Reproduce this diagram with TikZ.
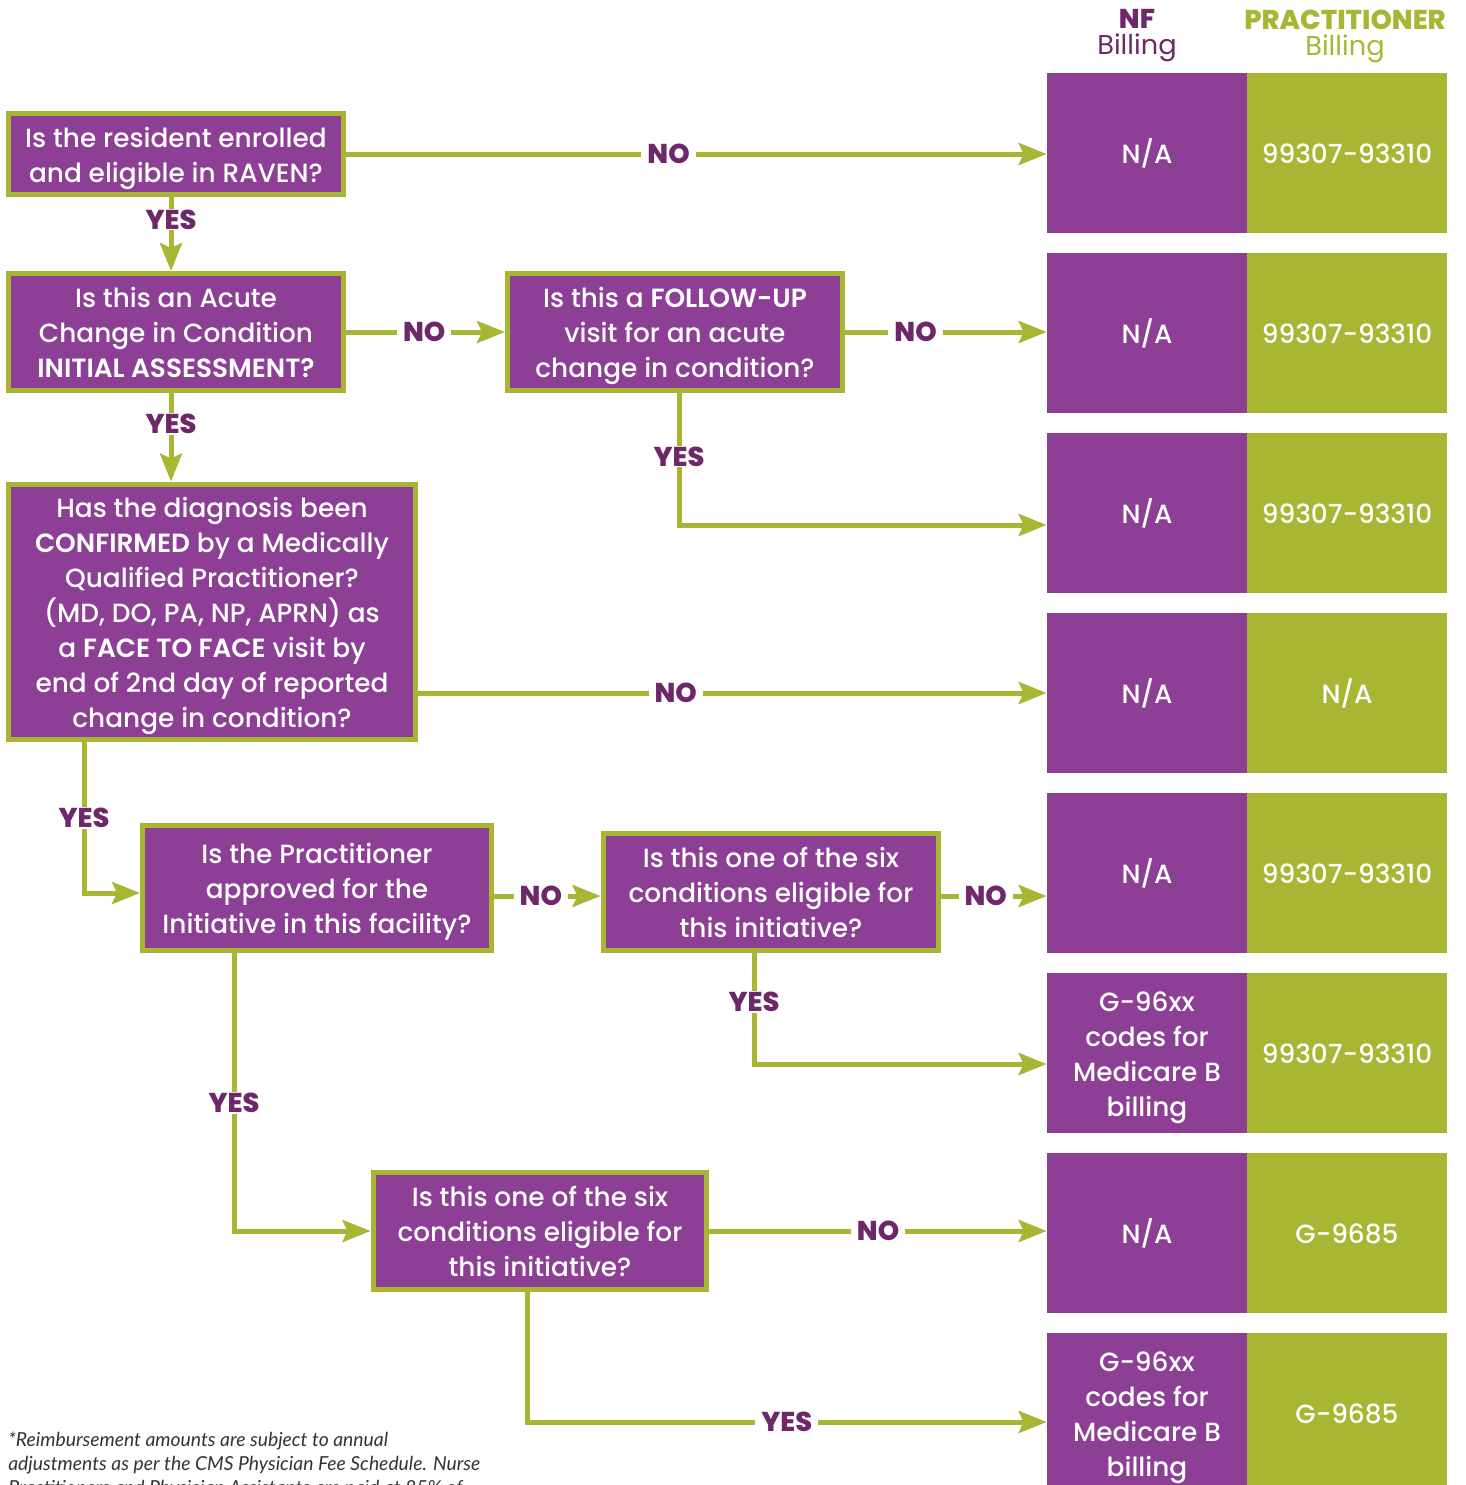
\documentclass[tikz,border=0pt]{standalone}
\usepackage{fontspec}
\setmainfont{Poppins}[UprightFont=* Medium, BoldFont=* SemiBold]
\newfontfamily\heavyfont{Poppins}[UprightFont=* ExtraBold]
\newfontfamily\lightfont{Poppins}
\newfontfamily\notefont{Lato}
\usepackage{xcolor}
\usetikzlibrary{arrows.meta}
\definecolor{plum}{HTML}{8C3F94}
\definecolor{darkplum}{HTML}{6E2869}
\definecolor{leaf}{HTML}{A9B633}

\newcommand{\na}{N/A}
% struts so the lines sit on their baselines, not on their glyphs
\newcommand{\qtext}[1]{\rule{0pt}{17.6pt}#1\rule[-5.6pt]{0pt}{5.6pt}}
\tikzset{
  qbox/.style={draw=leaf, line width=0.1cm, fill=plum, text=white,
    align=center, inner sep=0pt, font=\fontsize{15}{19.9}\selectfont},
  nfcell/.style={fill=plum, text=white, minimum width=4cm, minimum height=3.2cm,
    align=center, inner sep=0pt, font=\fontsize{15}{19.9}\selectfont},
  prcell/.style={nfcell, fill=leaf},
  flow/.style={draw=leaf, line width=0.1cm,
    -{Stealth[length=0.56cm, width=0.44cm, inset=0.1cm]}},
  ans/.style={fill=white, text=darkplum, inner xsep=0.12cm, inner ysep=0.02cm,
    font=\heavyfont\fontsize{15.5}{18}\selectfont},
  head/.style={align=center, inner sep=0pt, font=\lightfont\fontsize{15.5}{14.8}\selectfont}
}

\begin{document}
\begin{tikzpicture}[x=0.02cm, y=-0.02cm]
  \useasboundingbox (0,0) rectangle (1466,1485);

  % column heads
  \node[head, text=darkplum] (nfhead) at (1137,36) {{\heavyfont NF}\\Billing};
  \node[head, text=leaf] (prhead) at (1345,36) {{\heavyfont PRACTITIONER}\\Billing};

  % billing cells
  \foreach \i/\nf/\pr in {1/\na/99307-93310, 2/\na/99307-93310, 3/\na/99307-93310,
      4/\na/\na, 5/\na/99307-93310, 6/{G-96xx\\codes for\\Medicare B\\billing}/99307-93310,
      7/\na/G-9685, 8/{G-96xx\\codes for\\Medicare B\\billing}/G-9685} {
    \node[nfcell] (nf\i) at (1147,{153+180*(\i-1)}) {\qtext{\nf}};
    \node[prcell] (pr\i) at (1347,{153+180*(\i-1)}) {\qtext{\pr}};
  }

  % questions
  \node[qbox, minimum width=6.72cm, minimum height=1.64cm] (q1) at (176,154)
    {\qtext{Is the resident enrolled\\and eligible in RAVEN?}};
  \node[qbox, minimum width=6.72cm, minimum height=2.34cm] (q2) at (176,332)
    {\qtext{Is this an Acute\\Change in Condition\\\textbf{INITIAL ASSESSMENT?}}};
  \node[qbox, minimum width=6.70cm, minimum height=2.34cm] (q3) at (675,332)
    {\qtext{Is this a \textbf{FOLLOW-UP}\\visit for an acute\\change in condition?}};
  \node[qbox, minimum width=8.14cm, minimum height=5.12cm] (q4) at (212,612)
    {\qtext{Has the diagnosis been\\\textbf{CONFIRMED} by a Medically\\Qualified Practitioner?\\(MD, DO, PA, NP, APRN) as\\a \textbf{FACE TO FACE} visit by\\end of 2nd day of reported\\change in condition?}};
  \node[qbox, minimum width=6.98cm, minimum height=2.50cm] (q5) at (317,888)
    {\qtext{Is the Practitioner\\approved for the\\Initiative in this facility?}};
  \node[qbox, minimum width=6.72cm, minimum height=2.34cm] (q6) at (771,892)
    {\qtext{Is this one of the six\\conditions eligible for\\this initiative?}};
  \node[qbox, minimum width=6.68cm, minimum height=2.34cm] (q7) at (540,1231)
    {\qtext{Is this one of the six\\conditions eligible for\\this initiative?}};

  % connectors
  \draw[flow] (q1.east) -- (q1.east -| nf1.west) node[ans, pos=0.46] {NO};
  \draw[flow] ([xshift=-0.1cm]q1.south) -- ([xshift=-0.1cm]q2.north) node[ans, pos=0.3] {YES};
  \draw[flow] (q2.east) -- (q3.west) node[ans, pos=0.49] {NO};
  \draw[flow] (q3.east) -- (q3.east -| nf2.west) node[ans, pos=0.35] {NO};
  \draw[flow] ([xshift=0.08cm]q3.south) |- ([yshift=-0.24cm]nf3.west) node[ans, pos=0.24] {YES};
  \draw[flow] ([xshift=-0.1cm]q2.south) -- ([xshift=-0.1cm]q2.south |- q4.north) node[ans, pos=0.35] {YES};
  \draw[flow] (nf4.west -| q4.east) -- (nf4.west) node[ans, pos=0.41] {NO};
  \draw[flow] ([xshift=1.56cm]q4.south west) |- ([yshift=-0.1cm]q5.west) node[ans, pos=0.25] {YES};
  \draw[flow] ([yshift=-0.16cm]q5.east) -- ([yshift=-0.16cm]q5.east -| q6.west) node[ans, pos=0.44] {NO};
  \draw[flow] ([yshift=-0.08cm]q6.east) -- ([yshift=-0.08cm]q6.east -| nf5.west) node[ans, pos=0.42] {NO};
  \draw[flow] ([xshift=-0.34cm]q6.south) |- ([yshift=-0.22cm]nf6.west) node[ans, pos=0.22] {YES};
  \draw[flow] ([xshift=-1.66cm]q5.south) |- (q7.west) node[ans, pos=0.27] {YES};
  \draw[flow] (q7.east) -- (q7.east -| nf7.west) node[ans, pos=0.5] {NO};
  \draw[flow] ([xshift=-0.26cm]q7.south) |- ([yshift=-0.18cm]nf8.west) node[ans, pos=0.75] {YES};

  % note
  \node[anchor=north west, align=left, inner sep=0pt, text=black!80,
    font=\notefont\itshape\fontsize{11}{13.66}\selectfont] (note) at (8,1432)
    {*Reimbursement amounts are subject to annual\\adjustments as per the CMS Physician Fee Schedule. Nurse\\Practitioners and Physician Assistants are paid at 85\% of};
\end{tikzpicture}
\end{document}
